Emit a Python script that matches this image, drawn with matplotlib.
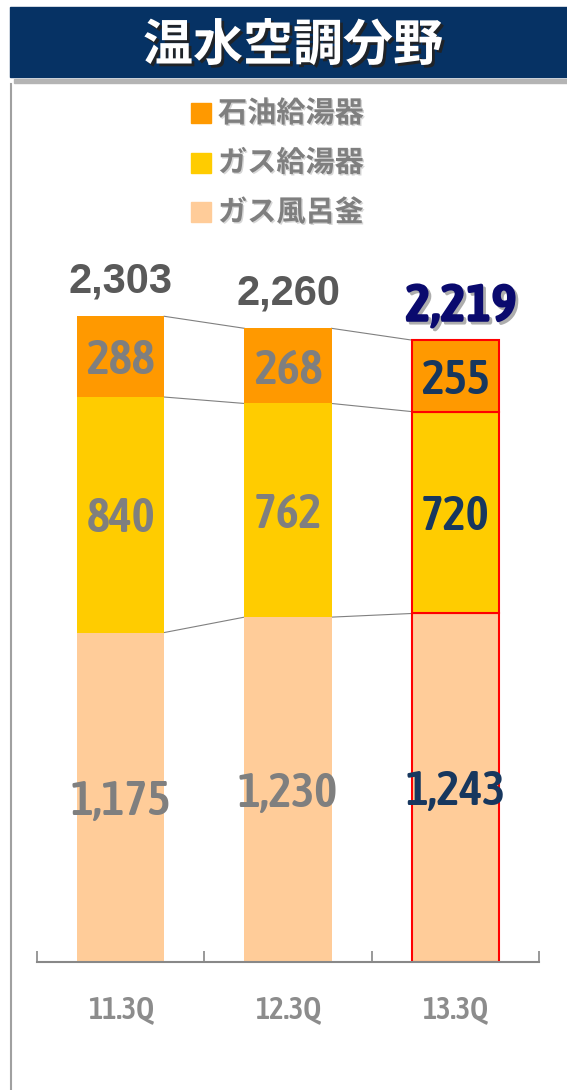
import matplotlib
matplotlib.use('Agg')
import matplotlib.pyplot as plt
import matplotlib.patheffects as pe
from matplotlib.patches import Rectangle
from matplotlib.lines import Line2D

# data
categories = ['11.3Q', '12.3Q', '13.3Q']
gas_bath = [1175, 1230, 1243]      # ガス風呂釜
gas_water = [840, 762, 720]        # ガス給湯器
oil_water = [288, 268, 255]        # 石油給湯器
totals = [2303, 2260, 2219]
series_names = ['石油給湯器', 'ガス給湯器', 'ガス風呂釜']

c_oil = '#FF9900'
c_gas = '#FFCC00'
c_bath = '#FFCC99'
JP = ['Noto Sans CJK JP', 'DejaVu Sans']
NARROW = ['Asap Condensed', 'Barlow Semi Condensed', 'DejaVu Sans']
WIDE = ['Liberation Sans', 'DejaVu Sans']

W, H = 567, 1090
fig = plt.figure(figsize=(W / 100, H / 100), dpi=100)

def fx(px):
    return px / W

def fy(py):
    return 1 - py / H

# header banner
fig.add_artist(Rectangle((fx(10), fy(77)), 1 - fx(10), fy(7) - fy(77),
                         transform=fig.transFigure, color='#063264', zorder=1))
fig.add_artist(Rectangle((fx(14), fy(83)), 1 - fx(14), fy(79) - fy(83),
                         transform=fig.transFigure, color='#b4b4b4', zorder=1))
fig.add_artist(Line2D([fx(11), fx(11)], [fy(84), 0], transform=fig.transFigure,
                      color='#a0a0a0', lw=1.5))
fig.text(fx(293), fy(46), '温水空調分野', color='white', fontsize=36, fontweight='bold',
         family=JP, ha='center', va='center',
         path_effects=[pe.withSimplePatchShadow(offset=(2, -2), shadow_rgbFace='#222222', alpha=0.9)])

# legend (manual, as in the slide)
for k, (name, col) in enumerate(zip(series_names, [c_oil, c_gas, c_bath])):
    yc = 113 + k * 49.5
    fig.add_artist(Rectangle((fx(191), fy(yc + 10)), fx(20), fy(yc - 10) - fy(yc + 10),
                             transform=fig.transFigure, color=col))
    fig.text(fx(218), fy(yc), name, color='#7f7f7f', fontsize=21, fontweight='bold',
             family=JP, ha='left', va='center',
             path_effects=[pe.withSimplePatchShadow(offset=(1, -1), shadow_rgbFace='#cccccc', alpha=0.8)])

# chart
ax = fig.add_axes([fx(37), fy(962), fx(539) - fx(37), fy(90) - fy(962)])
x = list(range(len(categories)))
w = 0.52
edge = ['none', 'none', '#FF0000']
lws = [0, 0, 1.5]

ax.bar(x, gas_bath, w, color=c_bath, edgecolor=edge, linewidth=lws, zorder=2)
bottom2 = gas_bath
ax.bar(x, gas_water, w, bottom=bottom2, color=c_gas, edgecolor=edge, linewidth=lws, zorder=2)
bottom3 = [a + b for a, b in zip(gas_bath, gas_water)]
ax.bar(x, oil_water, w, bottom=bottom3, color=c_oil, edgecolor=edge, linewidth=lws, zorder=2)
tops = [a + b for a, b in zip(bottom3, oil_water)]

# connector lines between bars
for levels in (gas_bath, bottom3, tops):
    for i in range(len(x) - 1):
        ax.plot([x[i] + w / 2, x[i + 1] - w / 2], [levels[i], levels[i + 1]],
                color='#808080', lw=0.8, zorder=1)

# value labels
for i in x:
    col = '#7f7f7f' if i < 2 else '#17375e'
    segs = [(0, gas_bath[i]), (bottom2[i], gas_water[i]), (bottom3[i], oil_water[i])]
    for b, v in segs:
        ax.annotate(f'{v:,}', (i, b + v / 2), xytext=(0, -3), textcoords='offset points',
                    color=col, fontsize=35, fontweight=600, family=NARROW,
                    ha='center', va='center', zorder=3)

for i in x:
    if i < 2:
        ax.annotate(f'{totals[i]:,}', (i, tops[i]), xytext=(0, 25), textcoords='offset points',
                    color='#595959', fontsize=30, fontweight='bold', family=WIDE,
                    ha='center', va='center')
    else:
        ax.annotate(f'{totals[i]:,}', (i, tops[i]), xytext=(4, 24), textcoords='offset points',
                    color='#0a0a6e', fontsize=39, fontweight=800, family=NARROW,
                    ha='center', va='center',
                    path_effects=[pe.withSimplePatchShadow(offset=(2, -2), shadow_rgbFace='#999999', alpha=0.8)])

ax.set_xlim(-0.5, 2.5)
ax.set_ylim(0, 3110)
for s in ('left', 'top', 'right'):
    ax.spines[s].set_visible(False)
ax.spines['bottom'].set_color('#888888')
ax.spines['bottom'].set_linewidth(1.5)
ax.set_yticks([])
ax.set_xticks(x)
ax.set_xticklabels(categories, color='#8c8c8c', fontsize=22, fontweight=600, family=NARROW)
ax.tick_params(axis='x', which='major', length=0, pad=23)
ax.set_xticks([-0.5, 0.5, 1.5, 2.5], minor=True)
ax.tick_params(axis='x', which='minor', direction='in', length=8, width=1.2, color='#888888')
ax.patch.set_alpha(0)

fig.savefig('out.png', dpi=100)
